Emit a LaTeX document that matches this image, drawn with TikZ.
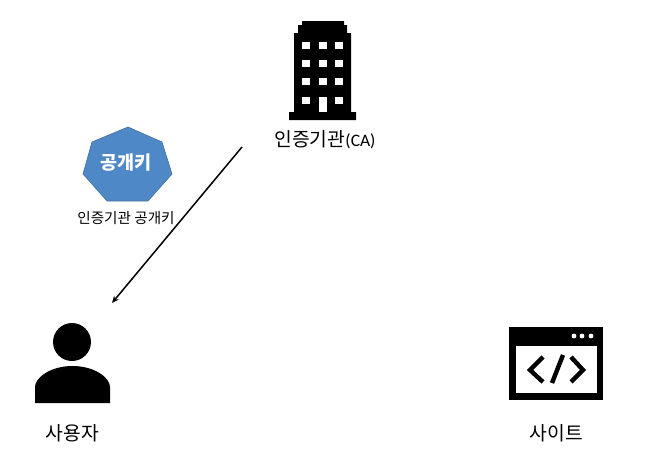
\documentclass[tikz,border=0pt]{standalone}
\usepackage{fontspec}
\setmainfont{Carlito}
\newfontfamily\kr{Noto Sans CJK KR}
\usetikzlibrary{arrows.meta}
\definecolor{keyblue}{HTML}{4F88C6}
\definecolor{keyedge}{HTML}{41719C}
\tikzset{
  lbl/.style={inner sep=0pt,font=\kr\fontsize{19.3}{22}\selectfont},
  smalllbl/.style={inner sep=0pt,font=\kr\fontsize{14.6}{17}\selectfont},
  keytext/.style={inner sep=0pt,text=white,font=\kr\bfseries\fontsize{18.6}{22}\selectfont},
  solidblack/.style={fill=black,draw=none},
  hole/.style={fill=white,draw=none},
  arrowline/.style={draw=black,line width=1.5pt,-{Stealth[length=7pt,width=6pt]}},
  codeline/.style={draw=black,line width=4.4pt},
}
\begin{document}
\begin{tikzpicture}[x=1pt,y=-1pt]
\useasboundingbox (0,0) rectangle (650,463);
% building
\fill[solidblack] (302,21)--(344,21)--(344,25)--(347,25)--(347,33)--(351,33)--(351,112)--(356,112)--(356,120)--(289,120)--(289,112)--(294,112)--(294,33)--(298,33)--(298,25)--(302,25)--cycle;
\foreach \y in {42,60,78,97}{
  \foreach \x in {302,319,335}{\fill[hole] (\x,\y) rectangle ++(8,6.5);}
}
\fill[hole] (319,97) rectangle (326.5,112);
\node[lbl] (ca) at (325,140) {인증기관{\fontsize{17.5}{20}\selectfont\rmfamily(CA)}};
% key
\draw[fill=keyblue,draw=keyedge,line width=.6pt] (128,127)--(162,142)--(172,174)--(148,201)--(107,201)--(83,174)--(92,142)--cycle;
\node[keytext] (key) at (126,163) {공개키};
\node[smalllbl] (keylabel) at (126,218) {인증기관 공개키};
% arrow
\coordinate (from) at (242,147);
\coordinate (to) at (112,303);
\draw[arrowline] (from) -- (to);
% user
\fill[solidblack] (72,342) circle (19);
\fill[solidblack] (35,403)--(35,387) .. controls (35,378) and (50,366) .. (72.5,366) .. controls (95,366) and (110,378) .. (110,387) -- (110,403) --cycle;
\node[lbl] (user) at (72.5,433) {사용자};
% site
\fill[solidblack] (509,327) rectangle (603,400);
\fill[hole] (516,346) rectangle (597,393);
\foreach \x in {574,582,591}{\fill[hole] (\x,336) circle (2.4);}
\draw[codeline] (543,357)--(530,370)--(543,382);
\draw[codeline] (571,357)--(583,370)--(571,382);
\draw[codeline] (563,355)--(552,383);
\node[lbl] (site) at (556.5,433) {사이트};
\end{tikzpicture}
\end{document}
